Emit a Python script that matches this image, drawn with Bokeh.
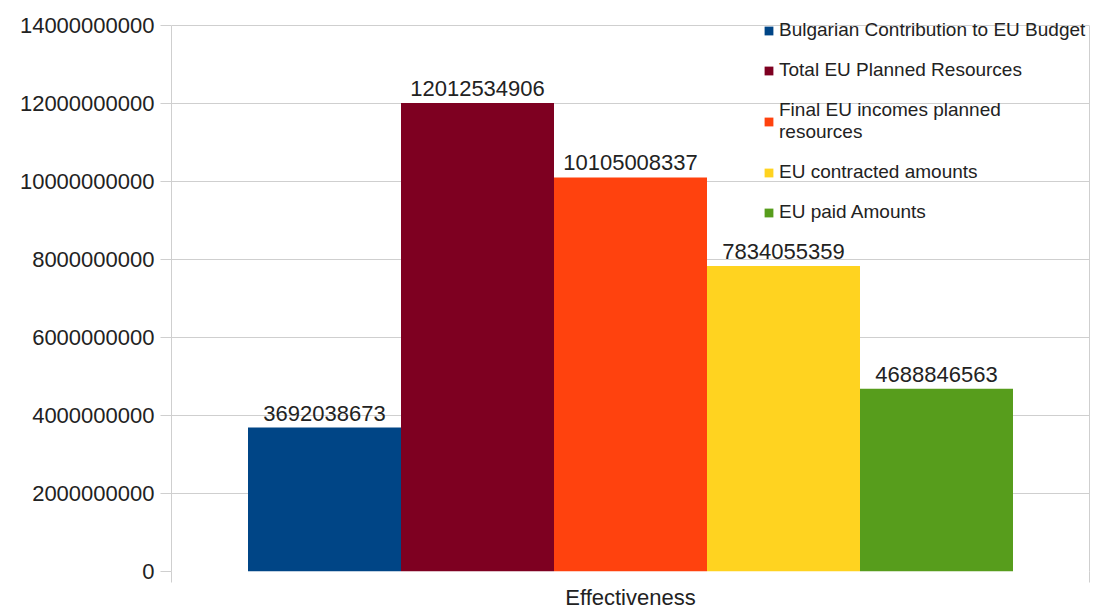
from bokeh.plotting import figure
from bokeh.models import (ColumnDataSource, Range1d, LinearAxis,
                          FixedTicker, NumeralTickFormatter, Legend, LegendItem)
from bokeh.core.properties import value
from bokeh.embed import file_html
from bokeh.resources import INLINE

category = ["Effectiveness"]
series = ["Bulgarian Contribution to EU Budget", "Total EU Planned Resources",
          "Final EU incomes planned\nresources", "EU contracted amounts", "EU paid Amounts"]
values = [3692038673, 12012534906, 10105008337, 7834055359, 4688846563]
colors = ["#004586", "#7e0021", "#ff420e", "#ffd320", "#579d1c"]
y_ticks = [0, 2000000000, 4000000000, 6000000000, 8000000000, 10000000000, 12000000000, 14000000000]

FONT = "Liberation Sans"
TXT = "#222222"
GRID = "#cfcfcf"

y_max = y_ticks[-1]
# frame extends a little above the top gridline so the legend is not clipped
p = figure(width=1105, height=612, x_range=Range1d(0, len(category)), y_range=Range1d(0, y_max * 1.0275),
           output_backend="svg", toolbar_location=None, x_axis_location=None,
           min_border_left=171, min_border_right=16, min_border_top=10, min_border_bottom=41)
p.outline_line_color = None
p.background_fill_color = "white"
p.border_fill_color = "white"

# y axis
ya = p.yaxis[0]
ya.ticker = FixedTicker(ticks=y_ticks)
ya.formatter = NumeralTickFormatter(format="0")
ya.bounds = (0, y_max)
ya.major_tick_out = 11
ya.major_tick_in = 0
ya.minor_tick_line_color = None
ya.major_tick_line_color = GRID
ya.axis_line_color = GRID
ya.major_label_standoff = 6
ya.major_label_text_font = FONT
ya.major_label_text_font_size = "22px"
ya.major_label_text_color = TXT
p.ygrid.ticker = FixedTicker(ticks=y_ticks)
p.ygrid.grid_line_color = GRID
p.xgrid.grid_line_color = None

# right border line
ra = LinearAxis(ticker=FixedTicker(ticks=[]), bounds=(0, y_max))
ra.axis_line_color = GRID
ra.major_tick_line_color = None
ra.minor_tick_line_color = None
ra.major_label_text_font_size = "0px"
p.add_layout(ra, "right")

# bottom edge ticks (category boundaries)
edges = list(range(len(category) + 1))
ea = LinearAxis(ticker=FixedTicker(ticks=edges))
ea.major_tick_out = 11
ea.major_tick_in = 0
ea.major_tick_line_color = GRID
ea.minor_tick_line_color = None
ea.axis_line_color = None
ea.major_label_overrides = {e: "" for e in edges}
ea.major_label_text_font_size = "0px"
ea.major_label_standoff = 0
p.add_layout(ea, "below")

centers = [i + 0.5 for i in range(len(category))]
ca = LinearAxis(ticker=FixedTicker(ticks=centers))
ca.axis_line_color = None
ca.major_tick_line_color = None
ca.minor_tick_line_color = None
ca.major_label_overrides = {c: category[i] for i, c in enumerate(centers)}
ca.major_label_standoff = -4
ca.major_label_text_font = FONT
ca.major_label_text_font_size = "22px"
ca.major_label_text_color = TXT
p.add_layout(ca, "below")

n = len(series)
w = 1.0 / (n + 1)
items = []
for i in range(n):
    xs = [c + (i - (n - 1) / 2) * w for c in centers]
    src = ColumnDataSource(dict(x=xs, val=[values[i]], lab=[str(values[i])]))
    r = p.vbar(x="x", top="val", width=w, source=src, fill_color=colors[i], line_color=None)
    p.text(x="x", y="val", text="lab", source=src,
           text_align="center", text_baseline="bottom", y_offset=-7,
           text_font=value(FONT), text_font_size="22px", text_color=TXT)
    items.append(LegendItem(label=series[i], renderers=[r]))

leg = Legend(items=items, location=(592, 348))
leg.background_fill_alpha = 0
leg.border_line_color = None
leg.padding = 0
leg.margin = 0
leg.spacing = 18
leg.glyph_width = 11
leg.glyph_height = 11
leg.label_standoff = 5
leg.label_text_font = FONT
leg.label_text_font_size = "19px"
leg.label_text_color = TXT
leg.label_text_line_height = 1.1
p.add_layout(leg, "center")

open("out.html", "w").write(file_html(p, INLINE))
